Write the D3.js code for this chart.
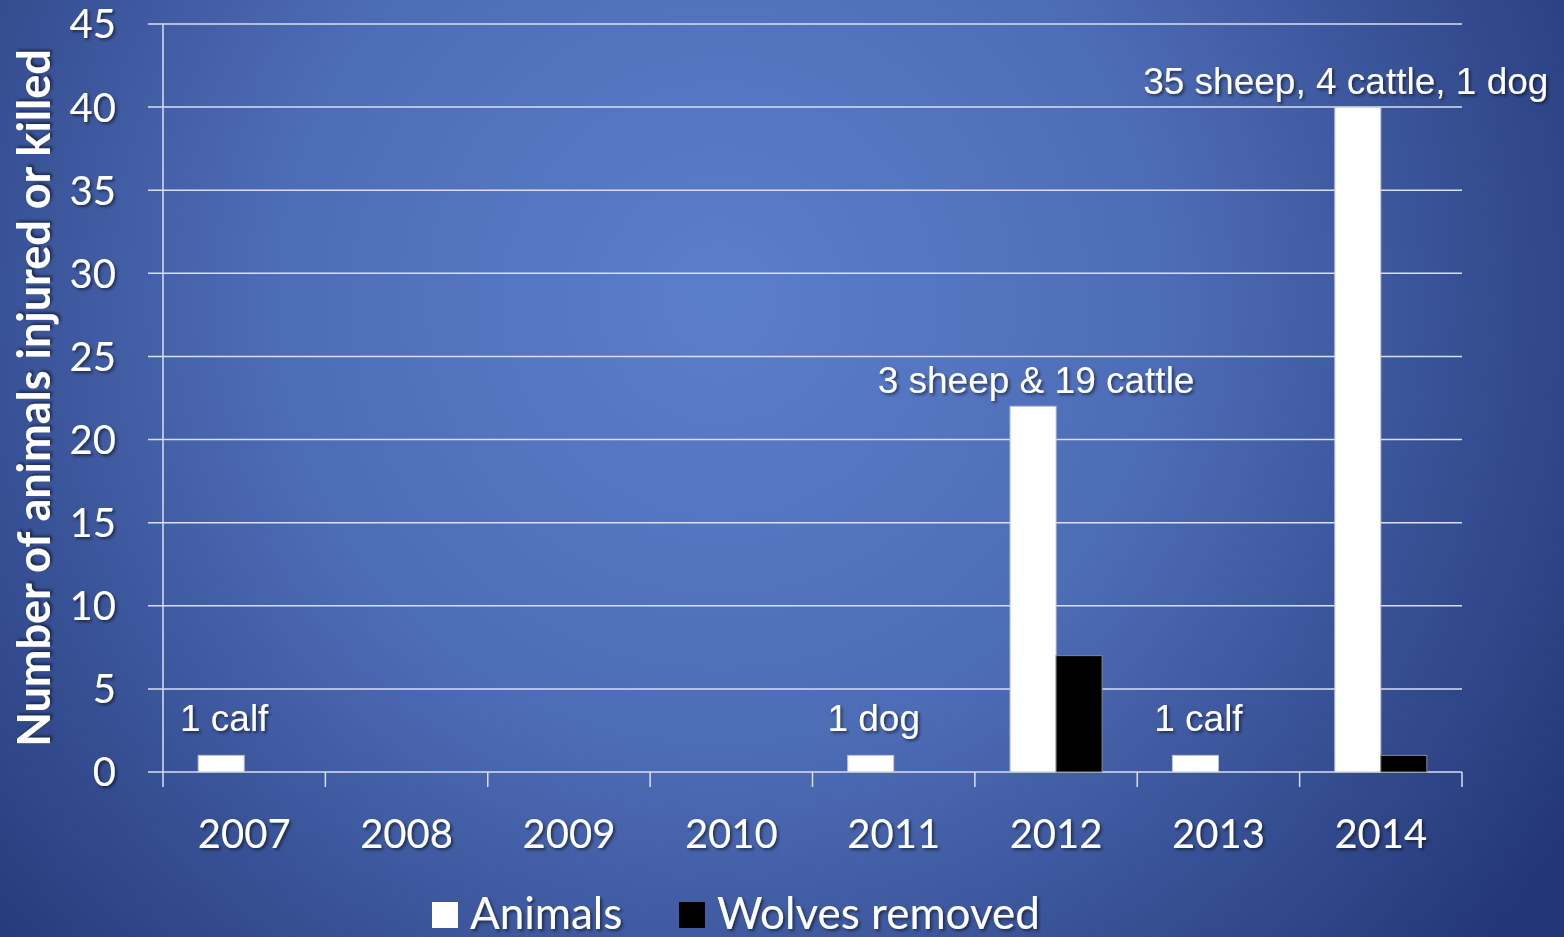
<!DOCTYPE html>
<html>
<head>
<meta charset="utf-8">
<script src="https://cdn.jsdelivr.net/npm/d3@7"></script>
<style>
  html, body { margin: 0; padding: 0; overflow: hidden; }
  svg { display: block; }
</style>
</head>
<body>
<svg id="chart"></svg>
<script>
// Chart data
const years = ['2007', '2008', '2009', '2010', '2011', '2012', '2013', '2014'];
const animals = [1, 0, 0, 0, 1, 22, 1, 40];
const wolvesRemoved = [0, 0, 0, 0, 0, 7, 0, 1];
const notes = ['1 calf', '', '', '', '1 dog', '3 sheep & 19 cattle', '1 calf', '35 sheep, 4 cattle, 1 dog'];
const yTicks = [0, 5, 10, 15, 20, 25, 30, 35, 40, 45];
const seriesNames = ['Animals', 'Wolves removed'];

const width = 1564, height = 937;
const margin = { top: 24, right: 102, bottom: 165, left: 163 };

const svg = d3.select('#chart').attr('width', width).attr('height', height);

// background gradient
const defs = svg.append('defs');
const grad = defs.append('radialGradient')
    .attr('id', 'bg')
    .attr('gradientUnits', 'userSpaceOnUse')
    .attr('cx', 720).attr('cy', 300).attr('r', 1000);
grad.append('stop').attr('offset', '0%').attr('stop-color', '#5b7ecb');
grad.append('stop').attr('offset', '45%').attr('stop-color', '#4d6cb6');
grad.append('stop').attr('offset', '100%').attr('stop-color', '#233776');

const shadow = defs.append('filter').attr('id', 'shadow')
    .attr('x', '-10%').attr('y', '-20%').attr('width', '120%').attr('height', '150%');
shadow.append('feDropShadow')
    .attr('dx', 2).attr('dy', 2).attr('stdDeviation', 1.5)
    .attr('flood-color', '#000').attr('flood-opacity', 0.5);

svg.append('rect').attr('width', width).attr('height', height).attr('fill', 'url(#bg)');

const x = d3.scaleBand().domain(years)
    .range([margin.left, width - margin.right]);
const y = d3.scaleLinear().domain([0, 45])
    .range([height - margin.bottom, margin.top]);

const barW = 46;

// gridlines
svg.append('g')
    .selectAll('line')
    .data(yTicks)
    .enter().append('line')
    .attr('x1', margin.left - 15)
    .attr('x2', width - margin.right)
    .attr('y1', d => y(d))
    .attr('y2', d => y(d))
    .attr('stroke', '#d9dff0')
    .attr('stroke-width', 1.5);

// y axis line
svg.append('line')
    .attr('x1', margin.left).attr('x2', margin.left)
    .attr('y1', y(45)).attr('y2', y(0) + 15)
    .attr('stroke', '#d9dff0').attr('stroke-width', 1.5);

// x ticks at band boundaries
const boundaries = years.map(d => x(d)).concat([x(years[years.length - 1]) + x.bandwidth()]);
svg.append('g')
    .selectAll('line')
    .data(boundaries.slice(1))
    .enter().append('line')
    .attr('x1', d => d).attr('x2', d => d)
    .attr('y1', y(0)).attr('y2', y(0) + 15)
    .attr('stroke', '#d9dff0').attr('stroke-width', 1.5);

// y tick labels
svg.append('g')
    .selectAll('text')
    .data(yTicks)
    .enter().append('text')
    .attr('x', margin.left - 47)
    .attr('y', d => y(d))
    .attr('dy', '0.36em')
    .attr('text-anchor', 'end')
    .attr('font-family', 'Lato, sans-serif')
    .attr('font-size', 40)
    .attr('fill', '#fff')
    .attr('filter', 'url(#shadow)')
    .text(d => d);

// x tick labels
svg.append('g')
    .selectAll('text')
    .data(years)
    .enter().append('text')
    .attr('x', d => x(d) + x.bandwidth() / 2)
    .attr('y', y(0) + 76)
    .attr('text-anchor', 'middle')
    .attr('font-family', 'Lato, sans-serif')
    .attr('font-size', 40)
    .attr('fill', '#fff')
    .attr('filter', 'url(#shadow)')
    .text(d => d);

// y axis title
svg.append('text')
    .attr('transform', `translate(50, 398) rotate(-90)`)
    .attr('text-anchor', 'middle')
    .attr('font-family', 'Lato, sans-serif')
    .attr('font-weight', 'bold')
    .attr('font-size', 45)
    .attr('fill', '#fff')
    .attr('filter', 'url(#shadow)')
    .text('Number of animals injured or killed');

// bars
const bars = svg.append('g');
years.forEach((yr, i) => {
    const cx = x(yr) + x.bandwidth() / 2;
    if (animals[i] > 0) {
        bars.append('rect')
            .attr('x', cx - barW)
            .attr('y', y(animals[i]))
            .attr('width', barW)
            .attr('height', y(0) - y(animals[i]))
            .attr('fill', '#fff')
            .attr('stroke', '#bfc3cc').attr('stroke-width', 1);
    }
    if (wolvesRemoved[i] > 0) {
        bars.append('rect')
            .attr('x', cx)
            .attr('y', y(wolvesRemoved[i]))
            .attr('width', barW)
            .attr('height', y(0) - y(wolvesRemoved[i]))
            .attr('fill', '#000')
            .attr('stroke', '#888').attr('stroke-width', 1);
    }
});

// annotations
svg.append('g')
    .selectAll('text')
    .data(years.map((yr, i) => ({ yr, note: notes[i], v: animals[i] })).filter(d => d.note))
    .enter().append('text')
    .attr('x', d => x(d.yr) + x.bandwidth() / 2 - barW / 2 + (d.v > 30 ? -12 : 3))
    .attr('y', d => y(d.v) - (d.v > 5 ? 13 : 24))
    .attr('text-anchor', 'middle')
    .style('font-family', "'Liberation Sans', Arial, sans-serif")
    .attr('font-size', 37)
    .attr('fill', '#fff')
    .attr('filter', 'url(#shadow)')
    .text(d => d.note);

// legend
const legend = svg.append('g').attr('transform', 'translate(432, 902)');
const legendX = [0, 247];
seriesNames.forEach((name, i) => {
    legend.append('rect')
        .attr('x', legendX[i]).attr('y', 0)
        .attr('width', 26).attr('height', 26)
        .attr('fill', i === 0 ? '#fff' : '#000');
    legend.append('text')
        .attr('x', legendX[i] + 38).attr('y', 27)
        .attr('font-family', 'Lato, sans-serif')
        .attr('font-size', 44)
        .attr('fill', '#fff')
        .attr('filter', 'url(#shadow)')
        .text(name);
});
</script>
</body>
</html>
